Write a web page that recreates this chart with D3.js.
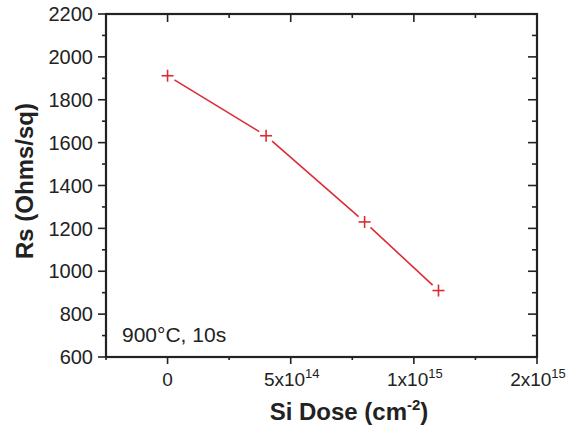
<!DOCTYPE html>
<html lang="en">
<head>
<meta charset="UTF-8">
<title>Rs vs Si Dose</title>
<script src="https://d3js.org/d3.v7.min.js"></script>
<style>
  body { margin: 0; background: #fff; }
  svg { display: block; font-family: "Liberation Sans", Arial, sans-serif; }
</style>
</head>
<body>
<div id="chart"></div>
<script>
// data
const dose = [0, 4e14, 8e14, 1.1e15];
const rs = [1912, 1632, 1230, 910];

const xMajor = [0, 5e14, 1e15, 1.5e15];
const xMinor = [-2.5e14, 2.5e14, 7.5e14, 1.25e15];
const xTickBase = ["0", "5x10", "1x10", "2x10"];
const xTickExp = ["", "14", "15", "15"];
const yMajor = [600, 800, 1000, 1200, 1400, 1600, 1800, 2000, 2200];
const yMinor = [700, 900, 1100, 1300, 1500, 1700, 1900, 2100];

const width = 566, height = 426;
const margin = { top: 14, right: 29, bottom: 69, left: 106 };
const red = "#dc2c36";
const axisCol = "#222";

const svg = d3.select("#chart").append("svg")
  .attr("width", width).attr("height", height);

const x = d3.scaleLinear().domain([-2.5e14, 1.5e15]).range([margin.left, width - margin.right]);
const y = d3.scaleLinear().domain([600, 2200]).range([height - margin.bottom, margin.top]);

const x0 = x.range()[0], x1 = x.range()[1];
const y0 = y.range()[0], y1 = y.range()[1];

// ticks
const ticks = svg.append("g").attr("stroke", axisCol).attr("stroke-width", 1.6);
yMajor.forEach(v => {
  ticks.append("line").attr("x1", x0 - 8).attr("x2", x0).attr("y1", y(v)).attr("y2", y(v));
  ticks.append("line").attr("x1", x1 - 9).attr("x2", x1).attr("y1", y(v)).attr("y2", y(v));
});
yMinor.forEach(v => {
  ticks.append("line").attr("x1", x0 - 4).attr("x2", x0).attr("y1", y(v)).attr("y2", y(v));
  ticks.append("line").attr("x1", x1 - 5).attr("x2", x1).attr("y1", y(v)).attr("y2", y(v));
});
xMajor.forEach(v => {
  ticks.append("line").attr("x1", x(v)).attr("x2", x(v)).attr("y1", y0).attr("y2", y0 + 7);
  ticks.append("line").attr("x1", x(v)).attr("x2", x(v)).attr("y1", y1).attr("y2", y1 + 8);
});
xMinor.forEach(v => {
  ticks.append("line").attr("x1", x(v)).attr("x2", x(v)).attr("y1", y0).attr("y2", y0 + 3);
  ticks.append("line").attr("x1", x(v)).attr("x2", x(v)).attr("y1", y1).attr("y2", y1 + 4);
});

// frame
svg.append("rect")
  .attr("x", x0).attr("y", y1)
  .attr("width", x1 - x0).attr("height", y0 - y1)
  .attr("fill", "none").attr("stroke", axisCol).attr("stroke-width", 2.2);

// y tick labels
svg.append("g").selectAll("text").data(yMajor).join("text")
  .attr("x", x0 - 13).attr("y", d => y(d)).attr("dy", "0.36em")
  .attr("text-anchor", "end").attr("font-size", 20)
  .attr("fill", "#222").text(d => d);

// x tick labels with superscripts
const xl = svg.append("g").selectAll("text").data(xMajor).join("text")
  .attr("x", (d, i) => x(d) + (xTickExp[i] ? 1 : 0)).attr("y", y0 + 29)
  .attr("text-anchor", "middle").attr("font-size", 19)
  .attr("fill", "#222");
xl.append("tspan").text((d, i) => xTickBase[i]);
xl.append("tspan").attr("font-size", 13).attr("dy", -8).text((d, i) => xTickExp[i]);

// axis titles
const xt = svg.append("text")
  .attr("x", 349).attr("y", 420)
  .attr("text-anchor", "middle").attr("font-size", 24).attr("font-weight", "bold").attr("fill", "#222");
xt.append("tspan").text("Si Dose (cm");
xt.append("tspan").attr("font-size", 15).attr("dy", -10).text("-2");
xt.append("tspan").attr("dy", 10).text(")");

svg.append("text")
  .attr("transform", "translate(33,181) rotate(-90)")
  .attr("text-anchor", "middle").attr("font-size", 24).attr("font-weight", "bold")
  .attr("fill", "#222").text("Rs (Ohms/sq)");

// annotation
svg.append("text")
  .attr("x", 122).attr("y", 342)
  .attr("font-size", 21).attr("fill", "#222")
  .text("900°C, 10s");

// line segments with small gaps at markers
const pts = dose.map((d, i) => [x(d), y(rs[i])]);
const gap = 8;
const segs = d3.pairs(pts).map(([a, b]) => {
  const dx = b[0] - a[0], dy = b[1] - a[1], len = Math.hypot(dx, dy);
  const ux = dx / len, uy = dy / len;
  return [a[0] + ux * gap, a[1] + uy * gap, b[0] - ux * gap, b[1] - uy * gap];
});
svg.append("g").selectAll("line").data(segs).join("line")
  .attr("x1", d => d[0]).attr("y1", d => d[1]).attr("x2", d => d[2]).attr("y2", d => d[3])
  .attr("stroke", red).attr("stroke-width", 1.6);

// plus markers
const m = svg.append("g").attr("stroke", red).attr("stroke-width", 1.6);
pts.forEach(p => {
  m.append("line").attr("x1", p[0] - 6).attr("x2", p[0] + 6).attr("y1", p[1]).attr("y2", p[1]);
  m.append("line").attr("x1", p[0]).attr("x2", p[0]).attr("y1", p[1] - 6).attr("y2", p[1] + 6);
});
</script>
</body>
</html>
